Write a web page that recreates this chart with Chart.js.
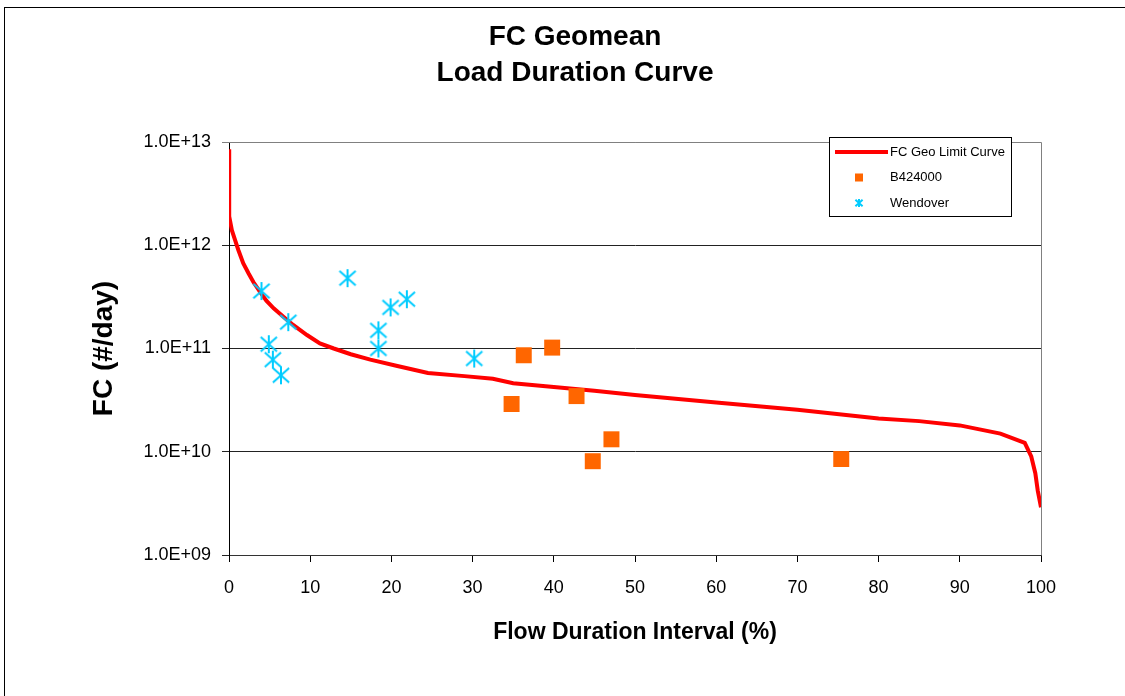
<!DOCTYPE html>
<html>
<head>
<meta charset="utf-8">
<script src="https://cdn.jsdelivr.net/npm/chart.js@4.4.1/dist/chart.umd.min.js"></script>
<style>
  html, body { margin: 0; padding: 0; background: #fff; }
  canvas { display: block; }
</style>
</head>
<body>
<canvas id="ldcChart" width="1125" height="696"></canvas>
<script>
// chart text
const titleLines = ['FC Geomean', 'Load Duration Curve'];
const xTitle = 'Flow Duration Interval (%)';
const yTitle = 'FC (#/day)';

// load duration limit curve (flow interval %, FC #/day)
const curveX = [0, 0, 0.05, 0.35, 0.75, 1.15, 1.75, 2.4, 3, 3.8, 4.6, 5.5, 6.7, 7.9, 9.6, 11.2, 12.9, 15, 17.4, 20.6, 24.5, 29, 32.5, 35, 39, 45, 50, 60, 70, 80, 85, 90, 95, 98, 98.8, 99.3, 99.6, 100];
const curveY = [8.5e12, 2.7e12, 1.9e12, 1.4e12, 1.12e12, 9.0e11, 6.7e11, 5.35e11, 4.4e11, 3.55e11, 2.9e11, 2.45e11, 2.03e11, 1.69e11, 1.35e11, 1.12e11, 1.0e11, 8.8e10, 7.8e10, 6.8e10, 5.8e10, 5.4e10, 5.1e10, 4.6e10, 4.3e10, 3.9e10, 3.55e10, 3.0e10, 2.55e10, 2.1e10, 1.98e10, 1.8e10, 1.5e10, 1.22e10, 9.0e9, 6.2e9, 4.2e9, 2.9e9];

// station B424000
const b424X = [34.8, 36.3, 39.8, 42.8, 44.8, 47.1, 75.4];
const b424Y = [2.9e10, 8.6e10, 1.02e11, 3.46e10, 8.1e9, 1.32e10, 8.5e9];

// station Wendover
const wendX = [4, 7.3, 4.9, 5.4, 6.4, 14.6, 18.4, 18.4, 19.9, 21.9, 30.2];
const wendY = [3.6e11, 1.8e11, 1.1e11, 7.8e10, 5.5e10, 4.8e11, 1.5e11, 1.0e11, 2.5e11, 3.0e11, 8.0e10];

const seriesNames = ['FC Geo Limit Curve', 'B424000', 'Wendover'];
const yTicks = [1e9, 1e10, 1e11, 1e12, 1e13];
const xTicks = [0, 10, 20, 30, 40, 50, 60, 70, 80, 90, 100];

const FONT = '"Liberation Sans", Arial, sans-serif';
const CYAN = '#00CCFF';
const ORANGE = '#FF6600';

function toPoints(xs, ys) {
  return xs.map((x, i) => ({ x: x, y: ys[i] }));
}

// Excel style 1.0E+09
function sciLabel(v) {
  const exp = Math.round(Math.log10(v));
  const mant = v / Math.pow(10, exp);
  return mant.toFixed(1) + 'E+' + String(exp).padStart(2, '0');
}

// six-armed asterisk marker
function asterisk(size, color, lw) {
  const c = document.createElement('canvas');
  c.width = size; c.height = size;
  const g = c.getContext('2d');
  const m = size / 2, r = size / 2 - 1;
  g.strokeStyle = color;
  g.lineWidth = lw;
  g.beginPath();
  g.moveTo(m, m - r); g.lineTo(m, m + r);
  g.moveTo(m - r * 0.9, m - r * 0.8); g.lineTo(m + r * 0.9, m + r * 0.8);
  g.moveTo(m - r * 0.9, m + r * 0.8); g.lineTo(m + r * 0.9, m - r * 0.8);
  g.stroke();
  return c;
}

const starMark = asterisk(20, CYAN, 2);
const starSmall = asterisk(10, CYAN, 2);

const decorations = {
  id: 'decorations',
  beforeDraw(chart) {
    const ctx = chart.ctx;
    ctx.save();
    ctx.fillStyle = '#fff';
    ctx.fillRect(0, 0, chart.width, chart.height);
    ctx.strokeStyle = '#000';
    ctx.lineWidth = 1;
    ctx.strokeRect(4.5, 7.5, 1300, 900);
    ctx.fillStyle = '#000';
    ctx.font = 'bold 28px ' + FONT;
    ctx.textAlign = 'center';
    ctx.textBaseline = 'middle';
    titleLines.forEach((t, i) => ctx.fillText(t, 575, 37 + i * 36));
    ctx.restore();
  },
  beforeDatasetsDraw(chart) {
    const a = chart.chartArea;
    const ctx = chart.ctx;
    ctx.save();
    ctx.strokeStyle = '#808080';
    ctx.lineWidth = 1;
    ctx.beginPath();
    ctx.moveTo(a.left, a.top + 0.5);
    ctx.lineTo(a.right + 0.5, a.top + 0.5);
    ctx.lineTo(a.right + 0.5, a.bottom);
    ctx.stroke();
    ctx.restore();
  },
  afterDraw(chart) {
    const ctx = chart.ctx;
    const bx = 829, by = 137, bw = 182, bh = 79;
    ctx.save();
    ctx.fillStyle = '#fff';
    ctx.fillRect(bx, by, bw, bh);
    ctx.strokeStyle = '#000';
    ctx.lineWidth = 1;
    ctx.strokeRect(bx + 0.5, by + 0.5, bw, bh);
    ctx.font = '13px ' + FONT;
    ctx.textBaseline = 'middle';
    ctx.fillStyle = '#000';
    chart.data.datasets.forEach((ds, i) => {
      const y = by + 15 + i * 25.5;
      if (i === 0) {
        ctx.strokeStyle = ds.borderColor;
        ctx.lineWidth = ds.borderWidth;
        ctx.beginPath();
        ctx.moveTo(bx + 6, y);
        ctx.lineTo(bx + 59, y);
        ctx.stroke();
      } else if (i === 1) {
        ctx.fillStyle = ds.backgroundColor;
        ctx.fillRect(bx + 26, y - 4, 8, 8);
      } else {
        ctx.drawImage(starSmall, bx + 25, y - 5);
      }
      ctx.fillStyle = '#000';
      ctx.fillText(ds.label, bx + 61, y);
    });
    ctx.restore();
  }
};

const chart = new Chart(document.getElementById('ldcChart').getContext('2d'), {
  type: 'scatter',
  data: {
    datasets: [
      {
        label: seriesNames[0],
        data: toPoints(curveX, curveY),
        showLine: true,
        borderColor: '#FF0000',
        borderWidth: 4,
        pointRadius: 0,
        tension: 0,
        order: 3
      },
      {
        label: seriesNames[1],
        data: toPoints(b424X, b424Y),
        pointStyle: 'rect',
        pointRadius: 11.3,
        backgroundColor: ORANGE,
        borderColor: ORANGE,
        borderWidth: 0,
        order: 2
      },
      {
        label: seriesNames[2],
        data: toPoints(wendX, wendY),
        pointStyle: starMark,
        pointRadius: 10,
        borderColor: CYAN,
        backgroundColor: CYAN,
        order: 1
      }
    ]
  },
  options: {
    responsive: false,
    animation: false,
    layout: { padding: { left: 0, right: 84, top: 142, bottom: 0 } },
    plugins: {
      legend: { display: false },
      title: { display: false },
      tooltip: { enabled: false }
    },
    scales: {
      x: {
        type: 'linear',
        min: 0,
        max: 100,
        afterBuildTicks(scale) { scale.ticks = xTicks.map(v => ({ value: v })); },
        afterFit(scale) { scale.height = 141; },
        grid: { drawOnChartArea: false, drawTicks: true, tickLength: 7, color: '#000' },
        border: { color: '#333', width: 1 },
        ticks: { color: '#000', padding: 15, font: { family: FONT, size: 18 }, maxRotation: 0 },
        title: {
          display: true,
          text: xTitle,
          color: '#000',
          font: { family: FONT, size: 23, weight: 'bold' },
          padding: { top: 0, bottom: 50 }
        }
      },
      y: {
        type: 'logarithmic',
        min: 1e9,
        max: 1e13,
        afterBuildTicks(scale) { scale.ticks = yTicks.map(v => ({ value: v })); },
        afterFit(scale) { scale.width = 229; },
        grid: {
          tickLength: 7,
          color: ctx => (ctx.tick && ctx.tick.value === 1e13 ? '#808080' : '#222'),
          lineWidth: 1
        },
        border: { color: '#000', width: 1 },
        ticks: {
          color: '#000',
          padding: 11,
          font: { family: FONT, size: 18 },
          callback: v => sciLabel(v)
        },
        title: {
          display: true,
          text: yTitle,
          color: '#000',
          font: { family: FONT, size: 28, weight: 'bold' },
          padding: { top: 87, bottom: 0 }
        }
      }
    }
  },
  plugins: [decorations]
});
</script>
</body>
</html>
